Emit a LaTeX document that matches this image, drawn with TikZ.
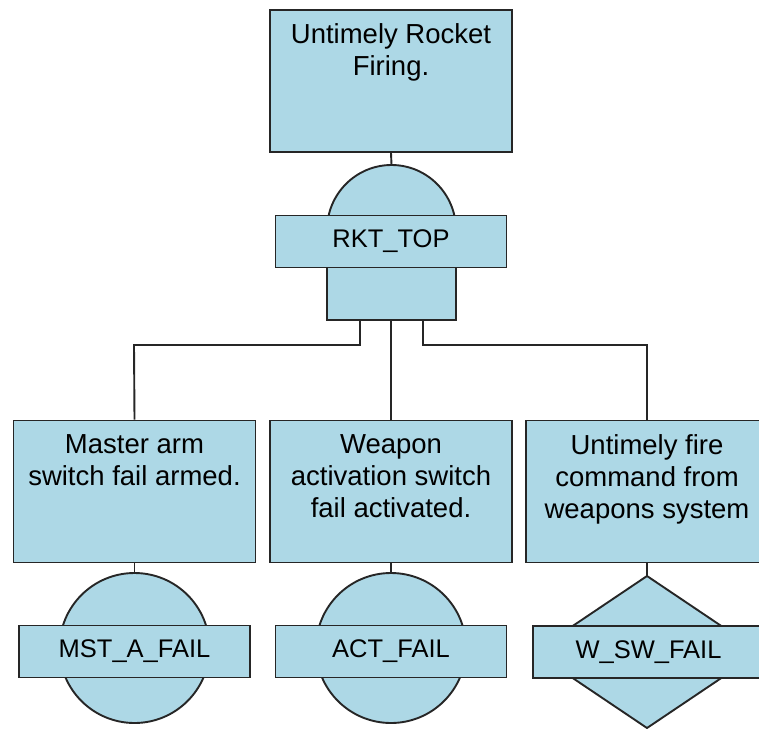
\documentclass[tikz,border=0pt]{standalone}
\usepackage{fontspec}
\setmainfont{Liberation Sans}
\begin{document}
\begin{tikzpicture}[x=1pt,y=1pt,
  line width=1.9pt,
  eventbox/.style={draw=black!85, fill=boxblue, minimum width=242pt, minimum height=142pt, inner sep=0pt},
  eventtext/.style={anchor=north, align=center, font=\fontsize{27.5}{32}\selectfont, inner sep=0pt},
  tagbox/.style={draw=black!85, fill=boxblue, minimum width=231pt, minimum height=52pt, inner sep=0pt, font=\fontsize{25.5}{32}\selectfont},
  gate/.style={draw=black!85, fill=boxblue},
  wire/.style={draw=black!85}]
\definecolor{boxblue}{RGB}{173,216,230}
\useasboundingbox (0,0) rectangle (759,-728);
\clip (0,0) rectangle (759,-728);

% top event
\node[eventbox] (top) at (391,-81) {};
\node[eventtext] (toptxt) at ([yshift=-14pt]top.north) {Untimely Rocket\\Firing.};

% AND gate
\coordinate (andtop) at (391.5,-165);
\path[gate] (327,-320) -- (327,-230) arc[start angle=180,end angle=0,x radius=64.5pt,y radius=65pt] -- (456,-320) -- cycle;
\coordinate (andl) at (360,-320);
\coordinate (andm) at (391,-320);
\coordinate (andr) at (423,-320);
\node[tagbox] (rkt) at (391,-241.5) {RKT\_TOP};

% intermediate events
\node[eventbox] (mst) at (134.5,-491.5) {};
\node[eventtext] (msttxt) at ([yshift=-14pt]mst.north) {Master arm\\switch fail armed.};
\node[eventbox] (act) at (391,-491.5) {};
\node[eventtext] (acttxt) at ([yshift=-14pt]act.north) {Weapon\\activation switch\\fail activated.};
\node[eventbox] (wsw) at (647,-491.5) {};
\node[eventtext] (wswtxt) at ([yshift=-14pt]wsw.north) {Untimely fire\\command from\\weapons system};

% connectors between top event, gate and intermediate events
\draw[wire] (top.south) -- (andtop);
\draw[wire] (andl) |- (134,-345) -- (mst.north);
\draw[wire] (andm) -- (act.north);
\draw[wire] (andr) |- (647,-345) -- (wsw.north);

% basic events (circles) and undeveloped event (diamond)
\node[gate, circle, minimum size=150pt, inner sep=0pt] (mstc) at (134.5,-648) {};
\node[gate, circle, minimum size=150pt, inner sep=0pt] (actc) at (391,-648) {};
\path[gate] (647,-576) -- (760,-652) -- (647,-728) -- (534,-652) -- cycle;
\coordinate (wswd) at (647,-576);

\draw[wire] (mst.south) -- (mstc.north);
\draw[wire] (act.south) -- (actc.north);
\draw[wire] (wsw.south) -- (wswd);

\node[tagbox] (mstt) at (134.5,-651.5) {MST\_A\_FAIL};
\node[tagbox] (actt) at (391,-651.5) {ACT\_FAIL};
\node[tagbox] (wswt) at (648.5,-652) {W\_SW\_FAIL};
\end{tikzpicture}
\end{document}
